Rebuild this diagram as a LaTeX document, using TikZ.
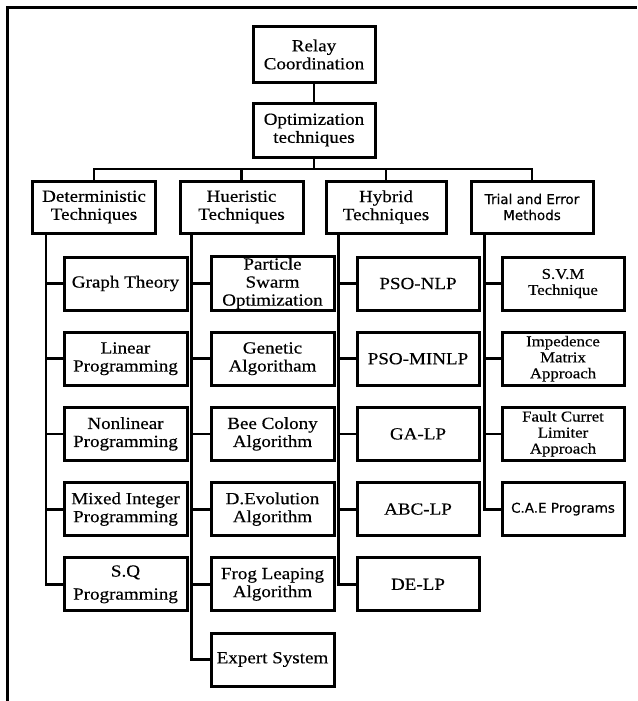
\documentclass[tikz,border=0pt]{standalone}
\usepackage{fontspec}
\setmainfont{Liberation Serif}[FakeStretch=1.12, FakeBold=0.4]
\newfontfamily\sansbox{DejaVu Sans}[FakeBold=0.4]
\begin{document}
\begin{tikzpicture}[x=1pt, y=-1pt,
  every node/.style={font=\fontsize{17}{18}\selectfont},
  box/.style={draw, line width=3pt, minimum width=123pt, minimum height=53pt, inner sep=1pt, align=center},
  smallbox/.style={font=\fontsize{15}{16}\selectfont},
  sansbox/.style={font=\sansbox\fontsize{13.5}{16}\selectfont},
  wire/.style={line width=2.8pt}]
  \useasboundingbox (0,0) rectangle (637,701);
  \draw[line width=3pt] (7,701) -- (7,8) -- (637,8);
  % top of the tree
  \node[box, minimum width=122pt, minimum height=55pt] (relay) at (314,54.5) {Relay\\Coordination};
  \node[box, minimum width=122pt, minimum height=54pt] (opt) at (314,130) {Optimization\\techniques};
  \coordinate (bus) at (314,169);
  \node[box, minimum height=52pt] (det) at (94,207) {Deterministic\\Techniques};
  \node[box, minimum height=52pt] (heu) at (241.5,207) {Hueristic\\Techniques};
  \node[box, minimum width=120pt, minimum height=52pt] (hyb) at (386,207) {Hybrid\\Techniques};
  \node[box, minimum width=122pt, minimum height=52pt, sansbox] (tri) at (532,207) {Trial and Error\\Methods};
  \draw[wire] (relay) -- (opt);
  \draw[wire] (opt) -- (bus);
  \draw[wire] (det.north) |- (bus) -| (tri.north);
  \draw[wire] (heu.north) -- (heu.north |- bus);
  \draw[wire] (hyb.north) -- (hyb.north |- bus);
  % columns
  \foreach \txt [count=\i] in {Graph Theory, Linear\\Programming, Nonlinear\\Programming,
      Mixed Integer\\Programming, S.Q\\[5pt]Programming} {
    \node[box] (det\i) at (125.5,{283.5+75.2*(\i-1)}) {\txt};
    \draw[wire] ([xshift=15pt]det.south west) |- (det\i.west);
  }
  \foreach \txt [count=\i] in {Particle\\Swarm\\Optimization, Genetic\\Algoritham, Bee Colony\\Algorithm,
      D.Evolution\\Algorithm, Frog Leaping\\Algorithm, Expert System} {
    \node[box] (heu\i) at (272.5,{283.5+75.2*(\i-1)}) {\txt};
    \draw[wire] ([xshift=13pt]heu.south west) |- (heu\i.west);
  }
  \foreach \txt [count=\i] in {PSO-NLP, PSO-MINLP, GA-LP, ABC-LP, DE-LP} {
    \node[box, minimum width=122pt] (hyb\i) at (418,{283.5+75.2*(\i-1)}) {\txt};
    \draw[wire] ([xshift=14pt]hyb.south west) |- (hyb\i.west);
  }
  \node[box, minimum width=122pt, smallbox] (tri1) at (563,283.5) {S.V.M\\Technique};
  \node[box, minimum width=122pt, smallbox] (tri2) at (563,358.7) {Impedence\\Matrix\\Approach};
  \node[box, minimum width=122pt, smallbox] (tri3) at (563,433.9) {Fault Curret\\Limiter\\Approach};
  \node[box, minimum width=122pt, sansbox] (tri4) at (563,509.1) {C.A.E Programs};
  \foreach \i in {1,...,4}
    \draw[wire] ([xshift=15pt]tri.south west) |- (tri\i.west);
\end{tikzpicture}
\end{document}
